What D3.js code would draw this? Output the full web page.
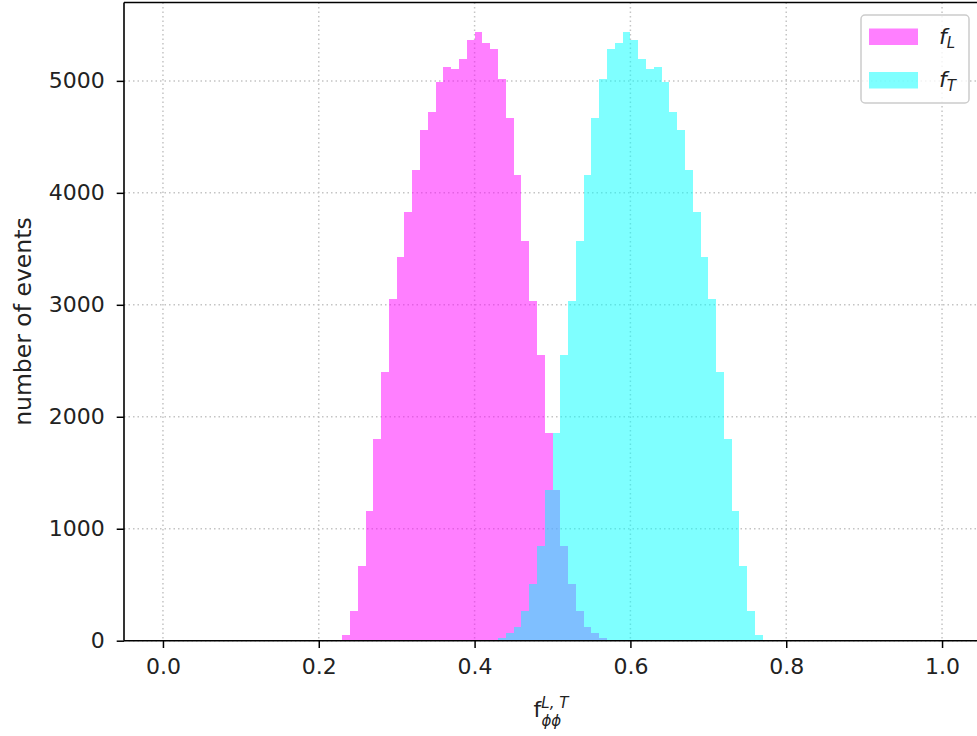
<!DOCTYPE html>
<html>
<head>
<meta charset="utf-8">
<script src="https://cdn.jsdelivr.net/npm/d3@7"></script>
<style>
  html, body { margin: 0; padding: 0; background: #ffffff; }
  svg { display: block; font-family: "DejaVu Sans", sans-serif; }
</style>
</head>
<body>
<svg id="chart" width="977" height="736"></svg>
<script>
// ---- data ----
const binWidth = 0.01;
const binsL = [0.23,0.24,0.25,0.26,0.27,0.28,0.29,0.30,0.31,0.32,0.33,0.34,0.35,0.36,0.37,0.38,0.39,0.40,0.41,0.42,0.43,0.44,0.45,0.46,0.47,0.48,0.49,0.50,0.51,0.52,0.53,0.54,0.55,0.56,0.57];
const countsL = [51,265,670,1161,1798,2402,3048,3429,3830,4203,4560,4723,4991,5125,5110,5191,5363,5438,5334,5283,5021,4664,4158,3571,3033,2551,1857,1345,848,506,265,125,66,21,3];
const binsT = [0.42,0.43,0.44,0.45,0.46,0.47,0.48,0.49,0.50,0.51,0.52,0.53,0.54,0.55,0.56,0.57,0.58,0.59,0.60,0.61,0.62,0.63,0.64,0.65,0.66,0.67,0.68,0.69,0.70,0.71,0.72,0.73,0.74,0.75,0.76];
const countsT = [3,21,66,125,265,506,848,1345,1857,2551,3033,3571,4158,4664,5021,5283,5334,5438,5363,5191,5110,5125,4991,4723,4560,4203,3830,3429,3048,2402,1798,1161,670,265,51];
const xTicks = [0.0,0.2,0.4,0.6,0.8,1.0];
const xTickLabels = ["0.0","0.2","0.4","0.6","0.8","1.0"];
const yTicks = [0,1000,2000,3000,4000,5000];
const yTickLabels = ["0","1000","2000","3000","4000","5000"];
const seriesNames = ["L","T"];
const seriesColors = ["#ff00ff","#00ffff"];
const xDomain = [-0.05, 1.05];
const yDomain = [0, 5700];

// ---- layout ----
const L = 124, R = 981, T = 2.5, B = 640.7;
const fs = 22;
const svg = d3.select("#chart");
const x = d3.scaleLinear().domain(xDomain).range([L, R]);
const y = d3.scaleLinear().domain(yDomain).range([B, T]);

// grid
const grid = svg.append("g");
grid.selectAll("line.gx").data(xTicks).join("line")
  .attr("x1", d => x(d)).attr("x2", d => x(d)).attr("y1", T).attr("y2", B)
  .attr("stroke", "#c4c4c4").attr("stroke-width", 1.5).attr("stroke-dasharray", "1.5,3");
grid.selectAll("line.gy").data(yTicks).join("line")
  .attr("x1", L).attr("x2", R).attr("y1", d => y(d)).attr("y2", d => y(d))
  .attr("stroke", "#c4c4c4").attr("stroke-width", 1.5).attr("stroke-dasharray", "1.5,3");

// histograms
const series = [
  {bins: binsL, counts: countsL, color: seriesColors[0]},
  {bins: binsT, counts: countsT, color: seriesColors[1]}
];
series.forEach(s => {
  svg.append("g").attr("shape-rendering", "crispEdges")
    .selectAll("rect").data(s.bins.map((b, i) => ({b, c: s.counts[i]}))).join("rect")
    .attr("x", d => x(d.b))
    .attr("width", d => x(d.b + binWidth) - x(d.b))
    .attr("y", d => y(d.c))
    .attr("height", d => y(0) - y(d.c))
    .attr("fill", s.color).attr("fill-opacity", 0.5);
});

// axes
const xAxis = svg.append("g").attr("transform", `translate(0,${B})`)
  .call(d3.axisBottom(x).tickValues(xTicks).tickFormat((d, i) => xTickLabels[i]).tickSize(7.3).tickPadding(10));
const yAxis = svg.append("g").attr("transform", `translate(${L},0)`)
  .call(d3.axisLeft(y).tickValues(yTicks).tickFormat((d, i) => yTickLabels[i]).tickSize(7.3).tickPadding(12));
[xAxis, yAxis].forEach(a => {
  a.select(".domain").remove();
  a.selectAll(".tick line").attr("stroke", "#000").attr("stroke-width", 1.5);
  a.selectAll(".tick text").attr("fill", "#222").style("font-size", fs + "px").style("font-family", "DejaVu Sans");
});

// spines
const sp = svg.append("g").attr("stroke", "#000").attr("stroke-width", 1.6).attr("fill", "none");
sp.append("line").attr("x1", L).attr("x2", L).attr("y1", T).attr("y2", B);
sp.append("line").attr("x1", L).attr("x2", R).attr("y1", B).attr("y2", B);
sp.append("line").attr("x1", L).attr("x2", R).attr("y1", T).attr("y2", T);
sp.append("line").attr("x1", R).attr("x2", R).attr("y1", T).attr("y2", B);

// axis labels
svg.append("text")
  .attr("transform", `translate(31,${(T + B) / 2}) rotate(-90)`)
  .attr("text-anchor", "middle").attr("fill", "#222")
  .style("font-size", "23.5px").text("number of events");

const xl = svg.append("text").attr("x", 551).attr("y", 717)
  .attr("text-anchor", "middle").attr("fill", "#222").style("font-size", fs + "px");
xl.append("tspan").text("f");
xl.append("tspan").attr("dy", -9).style("font-size", "15px").style("font-style", "italic").text("L, T");
xl.append("tspan").attr("dx", -27).attr("dy", 18).style("font-size", "15px").style("font-style", "italic").text("ϕϕ");

// legend
const lg = svg.append("g");
lg.append("rect").attr("x", 861).attr("y", 15).attr("width", 108).attr("height", 88)
  .attr("rx", 4).attr("fill", "#fff").attr("fill-opacity", 0.8)
  .attr("stroke", "#cccccc").attr("stroke-width", 1.5);
seriesNames.forEach((n, i) => {
  const yy = 28.5 + i * 43.5;
  lg.append("rect").attr("x", 869).attr("y", yy).attr("width", 49).attr("height", 16.5)
    .attr("fill", seriesColors[i]).attr("fill-opacity", 0.5);
  const t = lg.append("text").attr("x", 939).attr("y", yy + 15)
    .attr("fill", "#222").style("font-size", fs + "px").style("font-style", "italic");
  t.append("tspan").text("f");
  t.append("tspan").attr("dy", 4).style("font-size", "15px").text(n);
});
</script>
</body>
</html>
